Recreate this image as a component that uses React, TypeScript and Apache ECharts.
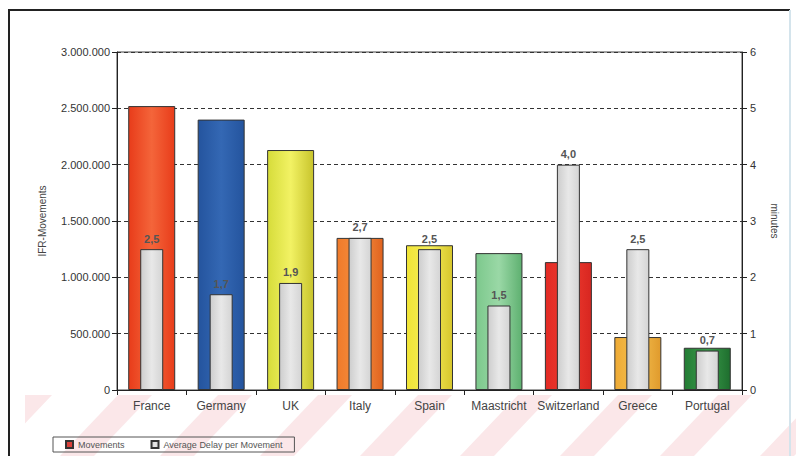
import React, { useEffect, useRef } from "react";
import * as echarts from "echarts";

const categories = ["France", "Germany", "UK", "Italy", "Spain", "Maastricht", "Switzerland", "Greece", "Portugal"];
const movements = [2520000, 2400000, 2130000, 1350000, 1285000, 1215000, 1135000, 470000, 375000];
const avgDelay = [2.5, 1.7, 1.9, 2.7, 2.5, 1.5, 4.0, 2.5, 0.7];
const leftTicks = [0, 500000, 1000000, 1500000, 2000000, 2500000, 3000000];
const rightTicks = [0, 1, 2, 3, 4, 5, 6];
const barColors = [
  ["#e83c1a", "#f4653a", "#e83c1a"],
  ["#24549e", "#3468b4", "#24549e"],
  ["#d6dc3a", "#f2f264", "#c8c42c"],
  ["#f07a2a", "#f59040", "#e0621e"],
  ["#f0e436", "#f6ee5a", "#d6c62c"],
  ["#7cc88c", "#9ad8a6", "#5eb070"],
  ["#e22a24", "#ee3c30", "#d82620"],
  ["#eeaa34", "#f4c050", "#e09a2c"],
  ["#237c34", "#3a9a4a", "#1e6e2e"],
];

function fmtThousands(v: number): string {
  return String(Math.round(v)).replace(/\B(?=(\d{3})+(?!\d))/g, ".");
}

export default function App() {
  const ref = useRef<HTMLDivElement>(null);
  useEffect(() => {
    document.body.style.margin = "0";
    if (!ref.current) return;
    const chart = echarts.init(ref.current, undefined, { renderer: "svg" });
    const font = "'Liberation Sans', Arial, sans-serif";

    const stripes: any[] = [];
    for (let x = -40; x < 820; x += 100) {
      stripes.push({
        type: "polygon",
        z: -10,
        silent: true,
        shape: { points: [[x, 456], [x + 34, 456], [x + 34 + 58, 395], [x + 58, 395]] },
        style: { fill: "#fbe7e9" },
      });
    }

    const movementData = movements.map((v, i) => ({
      value: v,
      itemStyle: {
        color: new echarts.graphic.LinearGradient(0, 0, 1, 0, [
          { offset: 0, color: barColors[i][0] },
          { offset: 0.5, color: barColors[i][1] },
          { offset: 1, color: barColors[i][2] },
        ]),
      },
    }));

    chart.setOption({
      animation: false,
      backgroundColor: "#ffffff",
      textStyle: { fontFamily: font },
      graphic: [
        ...stripes,
        { type: "rect", z: -5, silent: true, shape: { x: 0, y: 0, width: 25, height: 456 }, style: { fill: "#ffffff" } },
        { type: "line", silent: true, shape: { x1: 8, y1: 10, x2: 790, y2: 10 }, style: { stroke: "#222", lineWidth: 2 } },
        { type: "line", silent: true, shape: { x1: 9, y1: 10, x2: 9, y2: 456 }, style: { stroke: "#222", lineWidth: 2 } },
        { type: "line", silent: true, shape: { x1: 790, y1: 10, x2: 790, y2: 456 }, style: { stroke: "#d4e4ec", lineWidth: 2 } },
      ],
      grid: {
        left: 117,
        right: 54,
        top: 52,
        bottom: 66,
        show: true,
        borderColor: "#444",
        borderWidth: 1,
      },
      legend: {
        left: 53,
        top: 437,
        orient: "horizontal",
        borderColor: "#555",
        borderWidth: 1,
        padding: [3, 12],
        itemGap: 26,
        itemWidth: 7,
        itemHeight: 7,
        icon: "rect",
        textStyle: { fontSize: 9, color: "#555", fontFamily: font },
        data: ["Movements", "Average Delay per Movement"],
      },
      xAxis: [
        {
          type: "category",
          data: categories,
          axisLine: { lineStyle: { color: "#222" } },
          axisTick: { show: true, length: 5, lineStyle: { color: "#222" } },
          axisLabel: { color: "#444", fontSize: 12, margin: 10, interval: 0, fontFamily: font },
        },
        {
          type: "category",
          data: categories,
          show: false,
        },
      ],
      yAxis: [
        {
          type: "value",
          min: 0,
          max: 3000000,
          interval: 500000,
          name: "IFR-Movements",
          nameLocation: "middle",
          nameGap: 70,
          nameTextStyle: { fontSize: 10, color: "#444", fontFamily: font },
          axisLine: { show: true, lineStyle: { color: "#222" } },
          axisTick: { show: true, length: 5, lineStyle: { color: "#222" } },
          axisLabel: {
            color: "#333",
            fontSize: 11,
            margin: 7,
            fontFamily: font,
            formatter: (v: number) => (leftTicks.includes(v) ? fmtThousands(v) : ""),
          },
          splitLine: { show: true, lineStyle: { color: "#333", type: [4, 3], width: 1 } },
        },
        {
          type: "value",
          min: 0,
          max: 6,
          interval: 1,
          position: "right",
          name: "minutes",
          nameLocation: "middle",
          nameGap: 27,
          nameRotate: -90,
          nameTextStyle: { fontSize: 10, color: "#444", fontFamily: font },
          axisLine: { show: true, lineStyle: { color: "#222" } },
          axisTick: { show: true, length: 5, lineStyle: { color: "#222" } },
          axisLabel: {
            color: "#333",
            fontSize: 11,
            margin: 8,
            fontFamily: font,
            formatter: (v: number) => (rightTicks.includes(v) ? String(v) : ""),
          },
          splitLine: { show: false },
        },
      ],
      series: [
        {
          name: "Movements",
          type: "bar",
          xAxisIndex: 0,
          yAxisIndex: 0,
          barWidth: 47,
          itemStyle: { color: "#d8403a", borderColor: "#333", borderWidth: 1 },
          data: movementData,
          z: 2,
        },
        {
          name: "Average Delay per Movement",
          type: "bar",
          xAxisIndex: 1,
          yAxisIndex: 1,
          barWidth: 23,
          itemStyle: {
            color: new echarts.graphic.LinearGradient(0, 0, 1, 0, [
              { offset: 0, color: "#cdcdcd" },
              { offset: 0.5, color: "#e8e8e8" },
              { offset: 1, color: "#d4d4d4" },
            ]),
            borderColor: "#333",
            borderWidth: 1,
          },
          label: {
            show: true,
            position: "top",
            distance: 5,
            fontSize: 11,
            fontWeight: "bold",
            color: "#555",
            fontFamily: font,
            formatter: (p: any) => avgDelay[p.dataIndex].toFixed(1).replace(".", ","),
          },
          data: avgDelay,
          z: 3,
        },
      ],
    });
    return () => chart.dispose();
  }, []);
  return <div ref={ref} style={{ width: 796, height: 456 }} />;
}
